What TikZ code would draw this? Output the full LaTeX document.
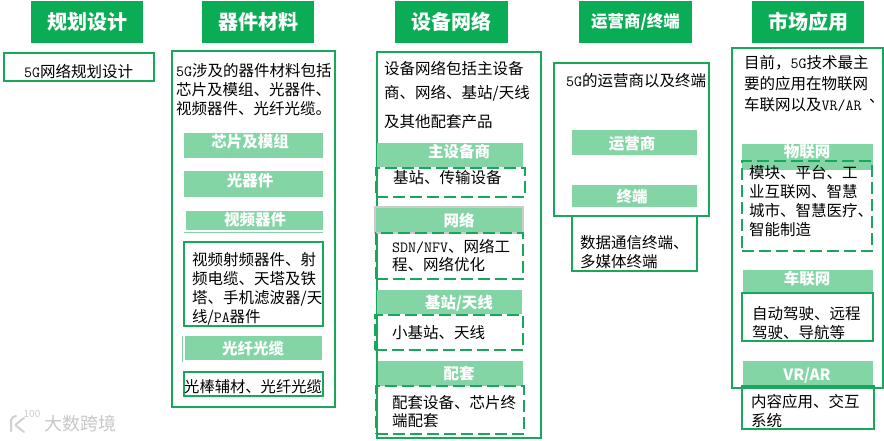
\documentclass[tikz,border=0pt]{standalone}
\usepackage{fontspec}
\usepackage{xcolor}
\usepackage{tikz}
\setmainfont{Noto Sans CJK SC}
\definecolor{fivegreen}{HTML}{0AAD55}
\definecolor{fiveline}{HTML}{17A85C}
\definecolor{fivebar}{HTML}{83D5A6}
\newcommand{\lat}[1]{{\ttfamily #1}}
\tikzset{
    headbox/.style={fill=fivegreen, text=white, anchor=north west, inner sep=0pt, outer sep=0pt, minimum width=112pt, minimum height=42pt, font=\fontsize{20}{24}\selectfont\bfseries},
    barbox/.style={fill=fivebar, anchor=north west, inner sep=0pt, outer sep=0pt},
    bartext/.style={text=white, inner sep=0pt, yshift=-1pt, font=\fontsize{15.5}{18}\selectfont\bfseries},
    bodybox/.style={draw=fiveline, line width=1.7pt, anchor=north west, inner sep=0pt, outer sep=0pt},
    dashbox/.style={bodybox, dash pattern=on 12pt off 5pt},
    bodytext/.style={anchor=west, align=left, inner sep=0pt, text=black, font=\fontsize{15.5}{19}\selectfont},
}
\begin{document}
\begin{tikzpicture}[x=1pt, y=-1pt]
    \useasboundingbox (0,0) rectangle (884,441);

    % Column heads
    \node[headbox] (planhead) at (31,1) {规划设计};
    \node[headbox] (parthead) at (202,1) {器件材料};
    \node[headbox, minimum width=113pt] (nethead) at (395,1) {设备网络};
    \node[headbox, minimum width=113pt, font=\fontsize{16.5}{20}\selectfont\bfseries] (carrierhead) at (579,1) {运营商/终端};
    \node[headbox] (markethead) at (752,1) {市场应用};

    % Planning
    \node[bodybox, minimum width=150pt, minimum height=28pt] (planbox) at (4,53) {};
    \node[bodytext] (plantext) at (24,72) {\lat{5G}网络规划设计};

    % Parts
    \node[bodybox, minimum width=163pt, minimum height=356pt] (partbox) at (172,51) {};
    \node[bodytext] (parttext) at (176,90) {\lat{5G}涉及的器件材料包括\\芯片及模组、光器件、\\视频器件、光纤光缆。};
    \node[barbox, minimum width=139pt, minimum height=25pt] (chipbar) at (184,133) {};
    \node[bartext] (chiptext) at (250,141) {芯片及模组};
    \node[barbox, minimum width=139pt, minimum height=26pt] (optbar) at (184,171) {};
    \node[bartext] (opttext) at (250,180) {光器件};
    \node[barbox, minimum width=137pt, minimum height=19pt] (videobar) at (186,211) {};
    \node[bartext] (videotext) at (255,219) {视频器件};
    \draw[fivebar, line width=0.8pt] (184,232) -- (323,232);
    \node[bodybox, minimum width=139pt, minimum height=84pt] (videobox) at (184,242) {};
    \node[bodytext] (videobody) at (192,288.5) {视频射频器件、射\\频电缆、天塔及铁\\塔、手机滤波器/天\\线/\lat{PA}器件};
    \node[barbox, minimum width=137pt, minimum height=24pt] (fiberbar) at (185,336) {};
    \node[bartext] (fibertext) at (253,348) {光纤光缆};
    \draw[fivebar, line width=0.8pt] (182,336) -- (182,362);
    \node[bodybox, minimum width=139pt, minimum height=24pt] (fiberbox) at (184,372) {};
    \node[bodytext, font=\fontsize{15.3}{19}\selectfont] (fiberbody) at (184,387) {光棒辅材、光纤光缆};

    % Network
    \node[bodybox, minimum width=164pt, minimum height=386pt] (netbox) at (377,52) {};
    \node[bodytext] (nettext) at (384,95) {设备网络包括主设备\\[5pt]商、网络、基站/天线\\[10pt]及其他配套产品};
    \node[barbox, minimum width=146pt, minimum height=24pt] (mainbar) at (377,143) {};
    \node[bartext] (maintext) at (459,151) {主设备商};
    \node[dashbox, minimum width=149pt, minimum height=29pt] (mainbox) at (376,168) {};
    \node[bodytext] (mainbody) at (393,178) {基站、传输设备};
    \node[barbox, draw=black!20, line width=1.2pt, minimum width=148pt, minimum height=26pt] (linkbar) at (375,207) {};
    \node[bartext] (linktext) at (459,219) {网络};
    \node[dashbox, minimum width=147pt, minimum height=46pt] (linkbox) at (376,233) {};
    \node[bodytext, font=\fontsize{15.5}{18}\selectfont] (linkbody) at (392,256) {\lat{SDN/NFV}、网络工\\程、网络优化};
    \node[barbox, minimum width=145pt, minimum height=24pt] (basebar) at (377,290) {};
    \node[bartext] (basetext) at (459,302) {基站/天线};
    \node[dashbox, minimum width=148pt, minimum height=35pt] (basebox) at (375,315) {};
    \node[bodytext] (basebody) at (392,333) {小基站、天线};
    \node[barbox, minimum width=145pt, minimum height=25pt] (kitbar) at (378,361) {};
    \node[bartext] (kittext) at (459,373) {配套};
    \node[dashbox, minimum width=148pt, minimum height=48pt] (kitbox) at (376,386) {};
    \node[bodytext, font=\fontsize{15.5}{18}\selectfont] (kitbody) at (392,412) {配套设备、芯片终\\端配套};

    % Carriers and terminals
    \node[bodybox, minimum width=155pt, minimum height=153pt] (carrierbox) at (554,63) {};
    \node[bodytext] (carriertext) at (566,81) {\lat{5G}的运营商以及终端};
    \node[barbox, minimum width=125pt, minimum height=25pt] (opbar) at (572,130) {};
    \node[bartext] (optext) at (632,143) {运营商};
    \node[barbox, minimum width=125pt, minimum height=22pt] (termbar) at (572,185) {};
    \node[bartext] (termtext) at (632,196) {终端};
    \node[bodybox, minimum width=125pt, minimum height=55pt] (termbox) at (572,216) {};
    \node[bodytext] (termbody) at (580,252.5) {数据通信终端、\\多媒体终端};

    % Market
    \node[bodybox, minimum width=151pt, minimum height=340pt] (marketbox) at (732,48) {};
    \node[bodytext, font=\fontsize{15.5}{21}\selectfont] (markettext) at (744,84) {目前，\lat{5G}技术最主\\要的应用在物联网\\车联网以及\lat{VR/AR}};
    \node[bodytext] (marketcomma) at (869,101) {、};
    \node[barbox, minimum width=131pt, minimum height=26pt] (iotbar) at (742,144) {};
    \node[bartext] (iottext) at (807,151) {物联网};
    \node[dashbox, minimum width=130pt, minimum height=90pt] (iotbox) at (742,161) {};
    \node[bodytext] (iotbody) at (749,201.5) {模块、平台、工\\业互联网、智慧\\城市、智慧医疗、\\智能制造};
    \node[barbox, minimum width=130pt, minimum height=23pt] (carbar) at (743,270) {};
    \node[bartext] (cartext) at (807,278) {车联网};
    \node[bodybox, minimum width=131pt, minimum height=48pt] (carbox) at (742,293) {};
    \node[bodytext] (carbody) at (752,323.5) {自动驾驶、远程\\驾驶、导航等};
    \node[barbox, minimum width=130pt, minimum height=25pt] (vrbar) at (743,361) {};
    \node[bartext] (vrtext) at (807,375) {VR/AR};
    \node[bodybox, minimum width=132pt, minimum height=43pt] (vrbox) at (742,386) {};
    \node[bodytext] (vrbody) at (751,411.5) {内容应用、交互\\系统};

    % Watermark
    \draw[black!18, line width=2pt, line cap=round, rounded corners=2pt] (16,416) -- (11,418) -- (11,431) (24,418) -- (15,425) -- (24,432);
    \node[inner sep=0pt, text=black!20, font=\fontsize{10}{12}\selectfont] (marklogo) at (32,414) {100};
    \node[inner sep=0pt, text=black!22, font=\fontsize{18}{20}\selectfont] (marktext) at (80,424) {大数跨境};
\end{tikzpicture}
\end{document}
